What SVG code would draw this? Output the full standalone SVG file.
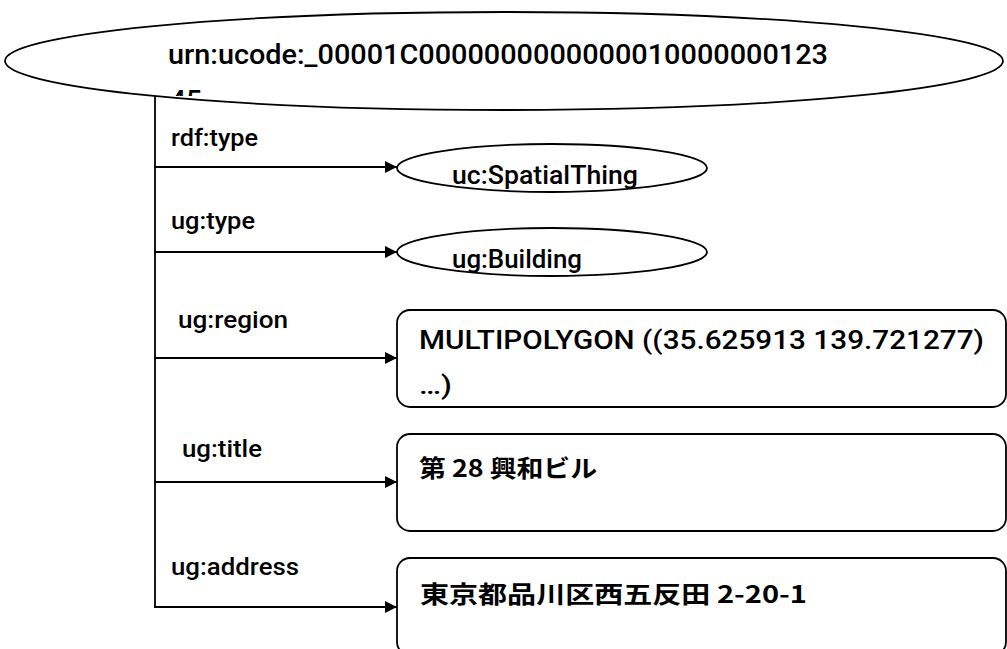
<svg xmlns="http://www.w3.org/2000/svg" width="1007" height="649" viewBox="0 0 1007 649">
<style>
.shape{fill:#fff;stroke:#000;stroke-width:1.8}
.conn{fill:none;stroke:#000;stroke-width:1.8}
.t{font-family:Roboto,"Liberation Sans","Noto Sans CJK JP",sans-serif;fill:#000;font-weight:500}
.lab{font-size:23px}
.big{font-size:28px}
.box{font-size:25px}
.ell{font-size:26px}
.jp{font-family:"Noto Sans CJK JP",sans-serif;font-size:24px;font-weight:bold}
</style>
<defs>
<marker id="arr" viewBox="0 0 10 10" refX="10" refY="5" markerWidth="15" markerHeight="12" markerUnits="userSpaceOnUse" orient="auto">
<path d="M0,0 L10,5 L0,10 Z" fill="#000"/>
</marker>
<clipPath id="clip45"><rect x="160" y="80" width="60" height="16"/></clipPath>
</defs>
<rect width="1007" height="649" fill="#fff"/>
<g id="connectors">
<line class="conn" x1="155" y1="96" x2="155" y2="607"/>
<line class="conn" x1="154" y1="167" x2="397" y2="167" marker-end="url(#arr)"/>
<line class="conn" x1="154" y1="252" x2="397" y2="252" marker-end="url(#arr)"/>
<line class="conn" x1="154" y1="358" x2="397" y2="358" marker-end="url(#arr)"/>
<line class="conn" x1="154" y1="482" x2="397" y2="482" marker-end="url(#arr)"/>
<line class="conn" x1="154" y1="607" x2="397" y2="607" marker-end="url(#arr)"/>
</g>
<g id="edge-labels">
<text class="t lab" x="171" y="146" textLength="87" lengthAdjust="spacingAndGlyphs">rdf:type</text>
<text class="t lab" x="171" y="229" textLength="84" lengthAdjust="spacingAndGlyphs">ug:type</text>
<text class="t lab" x="178" y="328" textLength="110" lengthAdjust="spacingAndGlyphs">ug:region</text>
<text class="t lab" x="182" y="457" textLength="80" lengthAdjust="spacingAndGlyphs">ug:title</text>
<text class="t lab" x="171" y="575" textLength="128" lengthAdjust="spacingAndGlyphs">ug:address</text>
</g>
<g id="subject">
<ellipse class="shape" cx="504" cy="61" rx="499" ry="49"/>
<text class="t big" x="168" y="64" textLength="660" lengthAdjust="spacingAndGlyphs">urn:ucode:_00001C0000000000000010000000123</text>
<text class="t big" x="170" y="110" clip-path="url(#clip45)">45</text>
</g>
<g id="node-spatialthing">
<ellipse class="shape" cx="552" cy="168" rx="155" ry="24"/>
<text class="t ell" x="452" y="184" textLength="186" lengthAdjust="spacingAndGlyphs">uc:SpatialThing</text>
</g>
<g id="node-building">
<ellipse class="shape" cx="552" cy="252" rx="155" ry="24"/>
<text class="t ell" x="452" y="268" textLength="130" lengthAdjust="spacingAndGlyphs">ug:Building</text>
</g>
<g id="node-region">
<rect class="shape" x="397" y="310" width="609" height="97" rx="13"/>
<text class="t box" x="419" y="349" textLength="565" lengthAdjust="spacingAndGlyphs">MULTIPOLYGON ((35.625913 139.721277)</text>
<text class="t box" x="419" y="394" textLength="33" lengthAdjust="spacingAndGlyphs">…)</text>
</g>
<g id="node-title">
<rect class="shape" x="397" y="434" width="609" height="97" rx="13"/>
<text class="t jp" x="419" y="477" textLength="178" lengthAdjust="spacingAndGlyphs">第 28 興和ビル</text>
</g>
<g id="node-address">
<rect class="shape" x="397" y="558" width="609" height="97" rx="13"/>
<text class="t jp" x="420" y="603" textLength="387" lengthAdjust="spacingAndGlyphs">東京都品川区西五反田 2-20-1</text>
</g>
</svg>
